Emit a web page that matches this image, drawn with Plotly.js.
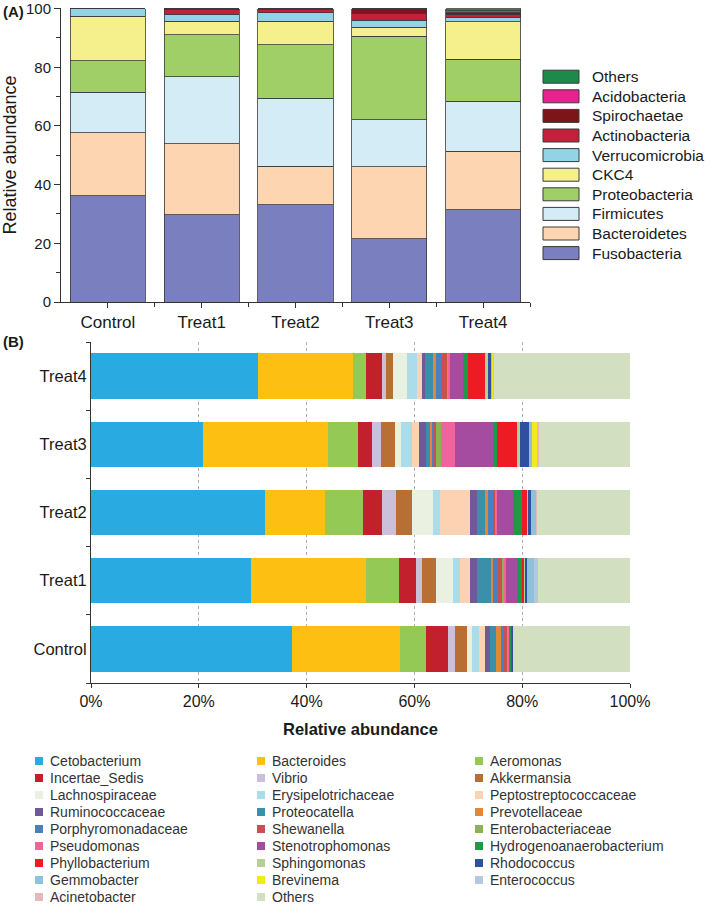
<!DOCTYPE html>
<html><head><meta charset="utf-8">
<script src="https://cdn.plot.ly/plotly-3.0.1.min.js"></script>
<style>html,body{margin:0;padding:0;background:#fff;} #chart{width:709px;height:908px;}</style>
</head><body><div id="chart"></div>
<script>
// ---------- Data: panel A (phyla, %) ----------
const groups = ['Control','Treat1','Treat2','Treat3','Treat4'];
const phyla = ['Fusobacteria','Bacteroidetes','Firmicutes','Proteobacteria','CKC4','Verrucomicrobia','Actinobacteria','Spirochaetae','Acidobacteria','Others'];
const fusobacteria    = [36.2, 29.7, 33.2, 21.5, 31.5];
const bacteroidetes   = [21.4, 24.2, 13.0, 24.6, 19.9];
const firmicutes      = [13.9, 22.9, 23.3, 16.1, 17.0];
const proteobacteria  = [10.7, 14.3, 18.2, 28.4, 14.4];
const ckc4            = [15.2,  4.6,  8.0,  3.1, 12.7];
const verrucomicrobia = [ 2.6,  2.4,  2.8,  2.4,  1.3];
const actinobacteria  = [ 0.0,  1.6,  1.2,  2.1,  1.1];
const spirochaetae    = [ 0.0,  0.3,  0.3,  1.5,  0.6];
const acidobacteria   = [ 0.0,  0.0,  0.0,  0.2,  0.7];
const othersPhyla     = [ 0.0,  0.0,  0.0,  0.1,  0.8];
const yTickVals = [0, 20, 40, 60, 80, 100];

// ---------- Data: panel B (genera, %) ----------
const genera = ['Cetobacterium','Bacteroides','Aeromonas','Incertae_Sedis','Vibrio','Akkermansia',
 'Lachnospiraceae','Erysipelotrichaceae','Peptostreptococcaceae','Ruminococcaceae','Proteocatella','Prevotellaceae',
 'Porphyromonadaceae','Shewanella','Enterobacteriaceae','Pseudomonas','Stenotrophomonas','Hydrogenoanaerobacterium',
 'Phyllobacterium','Sphingomonas','Rhodococcus','Gemmobacter','Brevinema','Enterococcus','Acinetobacter','Others'];
const control = [37.3,20.0,4.9,4.1,1.2,2.3,0.9,1.3,1.1,0.9,1.1,1.0,0.5,0.5,0.2,0.2,0.3,0.1,0.2,0.05,0.05,0.05,0.02,0.02,0.06,21.7];
const treat1  = [29.7,21.3,6.1,3.2,1.2,2.5,3.1,1.4,1.8,1.4,2.5,0.3,1.1,0.6,0.4,0.4,2.1,0.8,0.4,0.2,0.4,1.2,0.1,0.6,0.2,17.0];
const treat2  = [32.3,11.2,7.0,3.5,2.6,3.0,3.9,1.2,5.6,1.4,1.4,0.6,0.8,0.4,0.1,0.4,2.8,1.7,1.0,0.2,0.6,0.8,0.05,0.1,0.05,17.3];
const treat3  = [20.7,23.2,5.7,2.6,1.6,2.6,1.1,2.0,1.4,1.3,0.7,0.3,0.3,0.5,0.9,2.6,7.0,0.9,3.7,0.5,1.6,0.6,1.0,0.2,0.2,16.8];
const treat4  = [30.9,17.8,2.3,3.0,0.7,1.4,2.6,1.8,0.9,0.6,1.5,0.5,1.2,0.8,0.2,0.4,2.5,0.9,3.1,0.5,0.6,0.2,0.2,0.05,0.05,25.3];
const xTickVals = [0,20,40,60,80,100];
const xTickText = ['0%','20%','40%','60%','80%','100%'];

// ---------- Styles ----------
const phylaColors = ['#7a7fbf','#fdd5b1','#d3ecf5','#a1cf67','#f6f08c','#93d3e6','#c4203b','#7c1517','#ec1f8e','#1b8a4a'];
const generaColors = ['#29abe2','#fdbf12','#93c954','#c1202c','#cbbfdc','#b86f34','#ebf1e0','#abdcea','#fdd2b3',
 '#6e5a9a','#3b8fab','#e0873a','#4a7fc0','#c9504f','#8db254','#ef6499','#a64ca0','#1e9a47','#ed1c24','#b5d195',
 '#2f4f9f','#8fc1da','#f2ea1e','#b9c6e2','#e5b9b9','#d2dfc0'];

const W = 709, H = 908;
const FONT = 'Liberation Sans, Arial, Helvetica, sans-serif';
const fx = p => p / W;
const fy = p => 1 - p / H;

const phylaValues = [fusobacteria,bacteroidetes,firmicutes,proteobacteria,ckc4,verrucomicrobia,actinobacteria,spirochaetae,acidobacteria,othersPhyla];
const groupValues = [control,treat1,treat2,treat3,treat4];

const traces = [];
phyla.forEach((name, i) => {
  traces.push({
    type: 'bar', name: name, x: groups, y: phylaValues[i], xaxis: 'x', yaxis: 'y',
    width: 0.8, marker: {color: phylaColors[i], line: {color: '#3a3a3a', width: 0.8}},
    showlegend: false, hoverinfo: 'x+y+name'
  });
});
// helper axis for the ticks between categories
traces.push({type: 'scatter', mode: 'markers', x: [], y: [], xaxis: 'x3', yaxis: 'y', showlegend: false, hoverinfo: 'skip'});

genera.forEach((name, i) => {
  traces.push({
    type: 'bar', orientation: 'h', name: name, y: groups, x: groupValues.map(g => g[i]),
    xaxis: 'x2', yaxis: 'y2', width: 0.666,
    marker: {color: generaColors[i], line: {width: 0}},
    showlegend: false, hoverinfo: 'y+x+name'
  });
});

const shapes = [];
const annotations = [];

// Panel labels
annotations.push({xref: 'paper', yref: 'paper', x: fx(1), y: fy(12), xanchor: 'left', yanchor: 'middle',
  text: '<b>(A)</b>', showarrow: false, font: {family: FONT, size: 15, color: '#1a1a1a'}});
annotations.push({xref: 'paper', yref: 'paper', x: fx(1), y: fy(342), xanchor: 'left', yanchor: 'middle',
  text: '<b>(B)</b>', showarrow: false, font: {family: FONT, size: 15, color: '#1a1a1a'}});

// Legend A (reversed order: Others at top)
for (let k = 0; k < phyla.length; k++) {
  const i = phyla.length - 1 - k;
  const yc = 76.7 + k * 19.6;
  shapes.push({type: 'rect', xref: 'paper', yref: 'paper', x0: fx(543), x1: fx(579), y0: fy(yc - 6.5), y1: fy(yc + 6.5),
    fillcolor: phylaColors[i], line: {color: '#3a3a3a', width: 1}});
  annotations.push({xref: 'paper', yref: 'paper', x: fx(590), y: fy(yc), xanchor: 'left', yanchor: 'middle',
    text: phyla[i], showarrow: false, font: {family: FONT, size: 15.5, color: '#1a1a1a'}});
}

// Legend B (3 columns, row-major)
const colX = [48, 270, 488];
for (let i = 0; i < genera.length; i++) {
  const r = Math.floor(i / 3), c = i % 3;
  const yc = 761 + r * 17.0;
  const tx = colX[c];
  shapes.push({type: 'rect', xref: 'paper', yref: 'paper', x0: fx(tx - 13), x1: fx(tx - 5), y0: fy(yc - 4), y1: fy(yc + 4),
    fillcolor: generaColors[i], line: {width: 0}});
  annotations.push({xref: 'paper', yref: 'paper', x: fx(tx), y: fy(yc), xanchor: 'left', yanchor: 'middle',
    text: genera[i], showarrow: false, font: {family: FONT, size: 14, color: '#333'}});
}

const layout = {
  width: W, height: H,
  margin: {l: 0, r: 0, t: 0, b: 0},
  paper_bgcolor: '#fff', plot_bgcolor: 'rgba(0,0,0,0)',
  barmode: 'stack',
  showlegend: false,
  font: {family: FONT, color: '#1a1a1a'},
  xaxis: {
    domain: [fx(61), fx(530)], anchor: 'y', type: 'category', categoryarray: groups, range: [-0.5, 4.5],
    showline: true, linecolor: '#333', linewidth: 1, ticks: 'outside', ticklen: 5, tickcolor: '#333',
    tickfont: {size: 17}, showgrid: false, zeroline: false, fixedrange: true
  },
  xaxis3: {
    overlaying: 'x', anchor: 'y', type: 'linear', range: [-0.5, 4.5], tickvals: [0.5, 1.5, 2.5, 3.5, 4.5],
    showticklabels: false, ticks: 'outside', ticklen: 4, tickcolor: '#333', showline: false, showgrid: false, zeroline: false
  },
  yaxis: {
    domain: [fy(302), fy(8)], anchor: 'x', range: [0, 100.2], tickvals: yTickVals, ticklabeloverflow: 'allow',
    showline: true, linecolor: '#333', linewidth: 1, ticks: 'outside', ticklen: 6, tickcolor: '#333',
    minor: {tickvals: [10, 30, 50, 70, 90], ticks: 'outside', ticklen: 4, tickcolor: '#333', showgrid: false},
    tickfont: {size: 15}, showgrid: false, zeroline: false,
    title: {text: 'Relative abundance', font: {size: 18}, standoff: 6}
  },
  xaxis2: {
    domain: [fx(91), fx(630)], anchor: 'y2', range: [0, 100], tickvals: xTickVals, ticktext: xTickText,
    ticklabeloverflow: 'allow',
    showline: true, linecolor: '#333', linewidth: 1, ticks: 'outside', ticklen: 4, tickcolor: '#333',
    showgrid: true, gridcolor: '#aaaaaa', gridwidth: 1, griddash: 'dot', zeroline: false,
    tickfont: {size: 16},
    title: {text: '<b>Relative abundance</b>', font: {size: 16.5}, standoff: 14}
  },
  yaxis2: {
    domain: [fy(683), fy(342)], anchor: 'x2', type: 'category', categoryarray: groups, range: [-0.5, 4.5],
    tickson: 'boundaries', showline: true, linecolor: '#333', linewidth: 1, ticks: 'outside', ticklen: 4, tickcolor: '#333',
    tickfont: {size: 16.5}, showgrid: false, zeroline: false
  },
  shapes: shapes,
  annotations: annotations
};

Plotly.newPlot('chart', traces, layout, {displayModeBar: false, staticPlot: true});
</script>
</body></html>
